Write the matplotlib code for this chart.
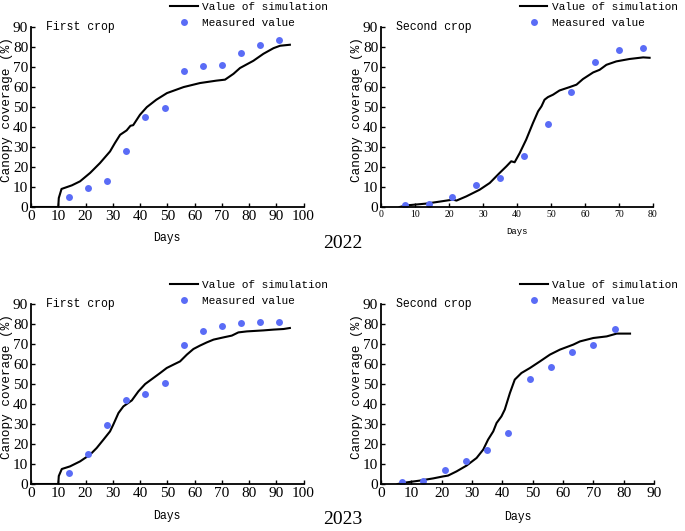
import matplotlib
matplotlib.use("Agg")
import matplotlib.pyplot as plt

###################################
# Data

# Measured days (shared by all panels)
days_first = [14, 21, 28, 35, 42, 49, 56, 63, 70, 77, 84, 91]
days_second = [7, 14, 21, 28, 35, 42, 49, 56, 63, 70, 77]

# 2022 first crop
meas_2022_first = [5.1, 9.5, 13.1, 27.9, 44.7, 49.3, 67.6, 70.4, 70.9, 76.7, 80.6, 83.4]
sim_2022_first_x = [0, 10, 10.2, 11.2, 15, 18, 21.7, 25.3, 29, 30.8, 32.7, 35.1, 36.5, 37.5,
                    40, 42.5, 46, 49.9, 56, 62, 68, 71.2, 74.3, 76.7, 81.6, 85.3, 89, 91.4, 95]
sim_2022_first_y = [0, 0, 4.5, 9.0, 10.8, 12.8, 17.0, 21.9, 27.7, 31.9, 36.0, 38.2, 40.5, 40.8,
                    46.0, 49.8, 53.5, 56.8, 59.8, 61.8, 63.0, 63.5, 66.4, 69.3, 72.9, 76.4, 79.2, 80.4, 80.9]

# 2022 second crop
meas_2022_second = [0.8, 1.3, 4.8, 10.8, 14.5, 25.6, 41.2, 57.3, 72.3, 78.1, 79.1]
sim_2022_second_x = [5.5, 7.5, 13.3, 17.3, 21.2, 22.2, 25.1, 29, 32, 34.9, 36.9, 38.3, 39.3,
                     40.8, 42.7, 44.7, 46.2, 47.2, 48.1, 49.1, 50.6, 52.5, 55.5, 57.5, 59.4,
                     62.4, 64.3, 66.3, 69.2, 73.1, 77.1, 79]
sim_2022_second_y = [0, 0.8, 1.7, 2.7, 3.7, 3.2, 5.3, 8.6, 12.0, 17.0, 20.3, 22.8, 22.3,
                     26.9, 33.6, 41.9, 47.7, 50.2, 53.5, 54.8, 56.0, 58.1, 59.8, 61.0, 63.8,
                     67.1, 68.4, 70.9, 72.6, 73.8, 74.6, 74.4]

# 2023 first crop
meas_2023_first = [5.5, 15.2, 29.3, 41.8, 45.2, 50.7, 69.5, 76.5, 78.8, 80.5, 80.8, 81.2]
sim_2023_first_x = [0, 10, 10.2, 11.3, 14.3, 18, 21.7, 24.1, 26.6, 29, 30.2, 32.1, 33.9, 37,
                    39.4, 41.9, 44.9, 47.4, 49.8, 52.3, 54.7, 57.2, 59.6, 62, 64.5, 67,
                    70.6, 73.7, 76.1, 79.2, 85.3, 89, 92.7, 95]
sim_2023_first_y = [0, 0, 4.0, 7.5, 8.8, 11.3, 14.7, 18.0, 22.2, 26.3, 29.7, 35.5, 38.8, 41.8,
                    46.3, 50.0, 53.0, 55.5, 58.0, 59.7, 61.3, 64.7, 67.5, 69.2, 70.8, 72.2,
                    73.3, 74.2, 75.8, 76.3, 76.8, 77.2, 77.5, 78.0]

# 2023 second crop
meas_2023_second = [1.0, 1.5, 7.2, 11.7, 16.8, 25.7, 52.7, 58.5, 65.8, 69.5, 77.7]
sim_2023_second_x = [5.5, 8.4, 12.8, 17.2, 20.5, 22.1, 24.9, 28.2, 31.5, 33.7, 35.3, 37,
                     38.1, 39.7, 40.8, 42.5, 44.1, 46.3, 49.1, 52.4, 55.7, 59, 63.4, 65.6,
                     70, 74.4, 77.7, 82.1]
sim_2023_second_y = [0, 0.8, 1.7, 2.8, 3.8, 4.2, 6.3, 9.2, 13.0, 17.2, 22.2, 26.3,
                     30.5, 33.8, 37.2, 45.5, 52.2, 55.5, 58.0, 61.3, 64.7, 67.2, 69.7, 71.3,
                     73.0, 73.8, 75.2, 75.2]

###################################
# Figure setup

W, H = 685, 531
fig = plt.figure(figsize=(W / 100, H / 100), dpi=100)

TXT = "Liberation Mono"
NUM = "Liberation Serif"
DOT = "#5a6cf6"


def px_axes(left, right, bottom, top):
    """Create axes from pixel coordinates of the reference picture"""
    return fig.add_axes([left / W, 1 - bottom / H, (right - left) / W, (bottom - top) / H])


def draw_panel(ax, title, sx, sy, mx, my, xmax, small_x=False, xlabel_y=-0.14):
    ax.plot(sx, sy, color="black", lw=1.5, label="Value of simulation")
    ax.plot(mx, my, "o", color=DOT, markersize=5, markeredgewidth=0, label="Measured value")
    ax.set_xlim(0, xmax)
    ax.set_ylim(0, 90)
    ax.set_xticks(range(0, xmax + 1, 10))
    ax.set_yticks(range(0, 91, 10))
    ax.spines["top"].set_visible(False)
    ax.spines["right"].set_visible(False)
    ax.spines["left"].set_linewidth(1.3)
    ax.spines["bottom"].set_linewidth(1.3)
    ax.tick_params(direction="in", length=3, width=1, pad=2)
    for lab in ax.get_yticklabels():
        lab.set_fontfamily(NUM)
        lab.set_fontsize(11)
    for lab in ax.get_xticklabels():
        lab.set_fontfamily(NUM)
        lab.set_fontsize(7 if small_x else 11)
    ax.set_xlabel("Days", fontfamily=TXT, fontsize=6.5 if small_x else 8.3)
    ax.xaxis.set_label_coords(0.5, xlabel_y)
    ax.set_ylabel("Canopy coverage (%)", fontfamily=TXT, fontsize=9.2)
    ax.yaxis.set_label_coords(-0.067, 0.54)
    ax.text(0.055, 1.0, title, transform=ax.transAxes, fontfamily=TXT, fontsize=8.3,
            va="center", ha="left")
    ax.legend(loc="upper left", bbox_to_anchor=(0.51, 1.135), frameon=False,
              prop={"family": TXT, "size": 8.0}, handlelength=2.5, handletextpad=0.4,
              borderpad=0, borderaxespad=0, labelspacing=0.55, numpoints=1)


ax1 = px_axes(31, 303.5, 207, 26.5)
draw_panel(ax1, "First crop", sim_2022_first_x, sim_2022_first_y, days_first,
           meas_2022_first, 100, xlabel_y=-0.14)

ax2 = px_axes(381, 653, 207, 26.5)
draw_panel(ax2, "Second crop", sim_2022_second_x, sim_2022_second_y, days_second,
           meas_2022_second, 80, small_x=True, xlabel_y=-0.11)

ax3 = px_axes(31, 303.5, 484, 304)
draw_panel(ax3, "First crop", sim_2023_first_x, sim_2023_first_y, days_first,
           meas_2023_first, 100, xlabel_y=-0.145)

ax4 = px_axes(381, 654, 484, 304)
draw_panel(ax4, "Second crop", sim_2023_second_x, sim_2023_second_y, days_second,
           meas_2023_second, 90, xlabel_y=-0.15)

fig.text(343 / W, 1 - 243 / H, "2022", fontfamily=NUM, fontsize=14, ha="center", va="center")
fig.text(343 / W, 1 - 520 / H, "2023", fontfamily=NUM, fontsize=14, ha="center", va="center")

fig.savefig("out.png", dpi=100)
